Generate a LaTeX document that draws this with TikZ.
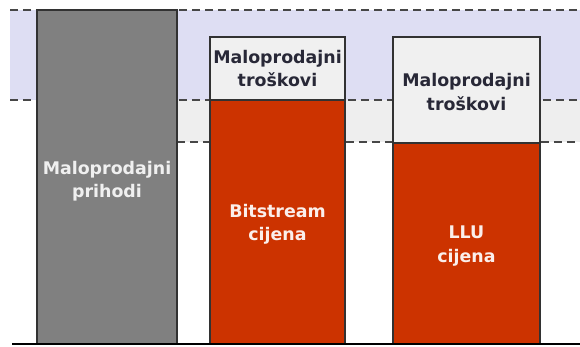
\documentclass[tikz,border=0pt]{standalone}
\usepackage{fontspec}
\setmainfont{DejaVu Sans}
\usepackage{tikz}
\usetikzlibrary{positioning}

\definecolor{bandblue}{RGB}{222,222,243}
\definecolor{bandgray}{RGB}{238,238,238}
\definecolor{boxgray}{RGB}{240,240,240}
\definecolor{barred}{RGB}{204,51,0}
\definecolor{bargray}{RGB}{128,128,128}
\definecolor{edgedark}{RGB}{50,50,50}
\definecolor{textdark}{RGB}{40,40,55}

\tikzset{
  bar/.style={draw=edgedark, line width=1pt},
  level/.style={draw=edgedark!90, line width=1.3pt, dash pattern=on 4pt off 2.5pt},
  label/.style={align=center, font=\fontsize{8.7}{11.6}\selectfont\bfseries},
}

\begin{document}
\begin{tikzpicture}[x=0.5pt, y=-0.5pt]
    \useasboundingbox (0,0) rectangle (580,347);

    % Draw background bands
    \fill[bandblue] (10,10) rectangle (580,100);
    \fill[bandgray] (177,100) rectangle (580,142);

    % Draw dashed levels
    \draw[level] (10,10) -- (580,10);
    \draw[level] (10,100) -- (580,100);
    \draw[level] (177,142) -- (580,142);

    % Draw bars
    \draw[bar, fill=bargray] (37,10) rectangle (177,344);
    \draw[bar, fill=boxgray] (210,37) rectangle (345,100);
    \draw[bar, fill=barred] (210,100) rectangle (345,344);
    \draw[bar, fill=boxgray] (393,37) rectangle (540,143);
    \draw[bar, fill=barred] (393,143) rectangle (540,344);

    % Draw base line
    \draw[line width=1.2pt, black] (12,344) -- (580,344);

    % Labels
    \node[label, text=boxgray] (prihodi) at (107,181) {Maloprodajni\\prihodi};
    \node[label, text=textdark] (troskoviA) at (277.5,68.5) {Maloprodajni\\troškovi};
    \node[label, text=white!92!barred] (bitstream) at (277.5,224) {Bitstream\\cijena};
    \node[label, text=textdark] (troskoviB) at (466.5,92) {Maloprodajni\\troškovi};
    \node[label, text=white!92!barred] (llu) at (466.5,246) {LLU\\cijena};

\end{tikzpicture}
\end{document}
